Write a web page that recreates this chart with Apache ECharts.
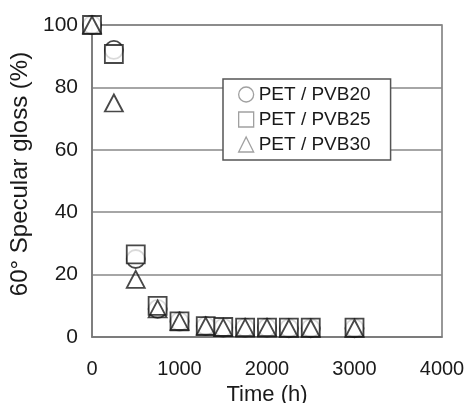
<!DOCTYPE html>
<html>
<head>
<meta charset="utf-8">
<script src="https://cdn.jsdelivr.net/npm/echarts@6/dist/echarts.min.js"></script>
<style>html,body{margin:0;padding:0;background:#fff}#c{width:466px;height:403px}</style>
</head>
<body>
<div id="c"></div>
<script>
const times = [0, 250, 500, 750, 1000, 1300, 1500, 1750, 2000, 2250, 2500, 3000];
const pvb20 = [100, 92, 25, 9, 5, 3.5, 3, 3, 3, 2.8, 2.8, 2.8];
const pvb25 = [100, 90.7, 26.5, 10, 5, 3.5, 3.2, 3, 3, 3, 3, 3];
const pvb30 = [100, 75, 18.5, 9, 5, 3.5, 3, 3, 3, 2.8, 2.8, 2.8];
const seriesNames = ['PET/PVB20', 'PET/PVB25', 'PET/PVB30'];
const xTicks = [0, 1000, 2000, 3000, 4000];
const yTicks = [0, 20, 40, 60, 80, 100];

const font = 'Liberation Sans, Arial, sans-serif';
const pair = (ys) => times.map((t, i) => [t, ys[i]]);
const markStyle = (fill) => ({ color: fill, borderColor: '#1a1a1a', borderWidth: 1.8 });

const chart = echarts.init(document.getElementById('c'), null, { renderer: 'canvas' });
chart.setOption({
  animation: false,
  backgroundColor: '#fff',
  grid: { left: 92, right: 24, top: 25, bottom: 66, show: true, borderColor: '#777', borderWidth: 1.5, backgroundColor: 'transparent', outerBoundsMode: 'none', containLabel: false },
  xAxis: {
    type: 'value', min: xTicks[0], max: xTicks[xTicks.length - 1], interval: 1000,
    name: 'Time (h)', nameLocation: 'middle', nameGap: 44,
    nameTextStyle: { fontFamily: font, fontSize: 22, color: '#1a1a1a' },
    axisLine: { lineStyle: { color: '#777', width: 1.5 } },
    axisTick: { show: false },
    axisLabel: { fontFamily: font, fontSize: 20, color: '#1a1a1a', margin: 22, formatter: (v) => String(v) },
    splitLine: { show: false }
  },
  yAxis: {
    type: 'value', min: yTicks[0], max: yTicks[yTicks.length - 1], interval: 20,
    name: '60° Specular gloss (%)', nameLocation: 'middle', nameGap: 55,
    nameTextStyle: { fontFamily: font, fontSize: 24, color: '#1a1a1a', padding: [0, 0, 0, 14] },
    axisLine: { show: true, lineStyle: { color: '#777', width: 1.5 } },
    axisTick: { show: false },
    axisLabel: { fontFamily: font, fontSize: 21, color: '#1a1a1a', margin: 14, formatter: (v) => String(v) },
    splitLine: { show: true, lineStyle: { color: '#888', width: 1.5 } }
  },
  legend: {
    orient: 'vertical', left: 223, top: 79,
    data: seriesNames,
    padding: [6, 20, 6, 15],
    itemWidth: 15, itemHeight: 15, itemGap: 6,
    backgroundColor: '#fff', borderColor: '#555', borderWidth: 1.5,
    itemStyle: { color: '#fff', borderColor: '#888', borderWidth: 1.3 },
    formatter: (n) => n.replace('/', ' / '),
    textStyle: { fontFamily: font, fontSize: 19, color: '#1a1a1a' }
  },
  series: [
    { name: seriesNames[0], type: 'scatter', symbol: 'circle', symbolSize: 18, data: pair(pvb20), itemStyle: markStyle('#fff'), z: 2 },
    { name: seriesNames[1], type: 'scatter', symbol: 'rect', symbolSize: 18, data: pair(pvb25), itemStyle: markStyle('#fff'), z: 3 },
    { name: seriesNames[2], type: 'scatter', symbol: 'triangle', symbolSize: [18, 17], data: pair(pvb30), itemStyle: markStyle('rgba(255,255,255,0)'), z: 4 }
  ]
});
</script>
</body>
</html>
